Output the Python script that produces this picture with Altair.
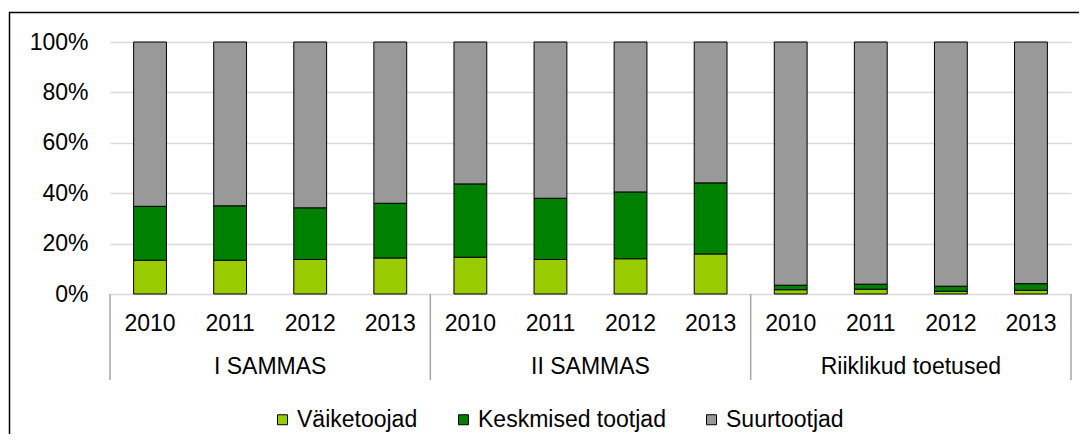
import altair as alt
import pandas as pd

groups = ["I SAMMAS", "II SAMMAS", "Riiklikud toetused"]
years = ["2010", "2011", "2012", "2013"]
series = ["Väiketoojad", "Keskmised tootjad", "Suurtootjad"]
colors = ["#99cc00", "#008000", "#999999"]

# values in percent, per group, per year
small = {"I SAMMAS": [13.4, 13.4, 13.7, 14.3],
         "II SAMMAS": [14.6, 13.7, 14.0, 15.9],
         "Riiklikud toetused": [1.7, 1.9, 1.1, 1.5]}
medium = {"I SAMMAS": [21.4, 21.6, 20.5, 21.7],
          "II SAMMAS": [29.1, 24.3, 26.5, 28.2],
          "Riiklikud toetused": [1.8, 2.0, 2.0, 2.6]}
large = {"I SAMMAS": [65.2, 65.0, 65.8, 64.0],
         "II SAMMAS": [56.3, 62.0, 59.5, 55.9],
         "Riiklikud toetused": [96.5, 96.1, 96.9, 95.9]}
y_ticks = [0, 20, 40, 60, 80, 100]

FONT = "Liberation Sans"
FS = 23

rows = []
for g in groups:
    for i, y in enumerate(years):
        key = f"{g}|{y}"
        for k, (s, vals) in enumerate(zip(series, [small, medium, large])):
            rows.append({"group": g, "year": y, "key": key, "series": s,
                         "ord": k, "value": vals[g][i]})
df = pd.DataFrame(rows)
keys = [f"{g}|{y}" for g in groups for y in years]

xscale = alt.Scale(domain=keys, paddingInner=0, paddingOuter=0)

bars = alt.Chart(df).mark_bar(
    width=alt.RelativeBandSize(0.41), stroke="black", strokeWidth=1
).encode(
    x=alt.X("key:N", scale=xscale, sort=keys, title=None,
            axis=alt.Axis(labels=False, ticks=False, domainColor="#a6a6a6",
                          domainWidth=1.5, grid=False)),
    y=alt.Y("value:Q", stack="zero", scale=alt.Scale(domain=[0, 100], nice=False),
            title=None,
            axis=alt.Axis(values=y_ticks, labelExpr="datum.value + '%'",
                          ticks=False, domain=False, labelPadding=22,
                          labelFont=FONT, labelFontSize=FS, labelColor="black",
                          gridColor="#d9d9d9", gridWidth=1.5)),
    color=alt.Color("series:N", scale=alt.Scale(domain=series, range=colors),
                    title=None,
                    legend=alt.Legend(orient="none", direction="horizontal",
                                      legendX=161, legendY=366,
                                      symbolType="square", symbolSize=100,
                                      symbolStrokeColor="black", symbolStrokeWidth=1,
                                      labelFont=FONT, labelFontSize=FS,
                                      labelColor="black", columnPadding=34,
                                      labelOffset=3, labelLimit=0)),
    order=alt.Order("ord:Q", sort="ascending"),
)

year_df = pd.DataFrame({"key": keys, "year": [k.split("|")[1] for k in keys]})
ylabels = alt.Chart(year_df).mark_text(font=FONT, fontSize=FS, color="black",
                                       baseline="middle", align="center").encode(
    x=alt.X("key:N", scale=xscale, bandPosition=0.5, axis=None),
    y=alt.value(282), text="year:N")

first_keys = pd.DataFrame({"key": [f"{g}|{years[0]}" for g in groups]})
last_key = pd.DataFrame({"key": [f"{groups[-1]}|{years[-1]}"]})

sep1 = alt.Chart(first_keys).mark_rule(color="#a6a6a6", strokeWidth=1.5).encode(
    x=alt.X("key:N", scale=xscale, bandPosition=0, axis=None),
    y=alt.value(252), y2=alt.value(338))
sep2 = alt.Chart(last_key).mark_rule(color="#a6a6a6", strokeWidth=1.5).encode(
    x=alt.X("key:N", scale=xscale, bandPosition=1, axis=None),
    y=alt.value(252), y2=alt.value(338))

grp = pd.DataFrame({"key": [f"{g}|{years[1]}" for g in groups], "label": groups})
glabels = alt.Chart(grp).mark_text(font=FONT, fontSize=FS, color="black",
                                   baseline="middle", align="center").encode(
    x=alt.X("key:N", scale=xscale, bandPosition=1, axis=None),
    y=alt.value(325), text="label:N")

frame = alt.Chart(pd.DataFrame({"a": [0]})).mark_rect(
    filled=False, stroke="black", strokeWidth=1.5).encode(
    x=alt.value(-100.5), x2=alt.value(1300), y=alt.value(-29.5), y2=alt.value(700))

chart = alt.layer(bars, ylabels, sep1, sep2, glabels, frame).properties(
    width=961, height=252,
    autosize=alt.AutoSizeParams(type="none"),
    padding={"left": 102, "top": 34, "right": 8, "bottom": 140},
).configure_view(stroke=None)

chart.save("out.html", embed_options={"renderer": "svg", "actions": False})
